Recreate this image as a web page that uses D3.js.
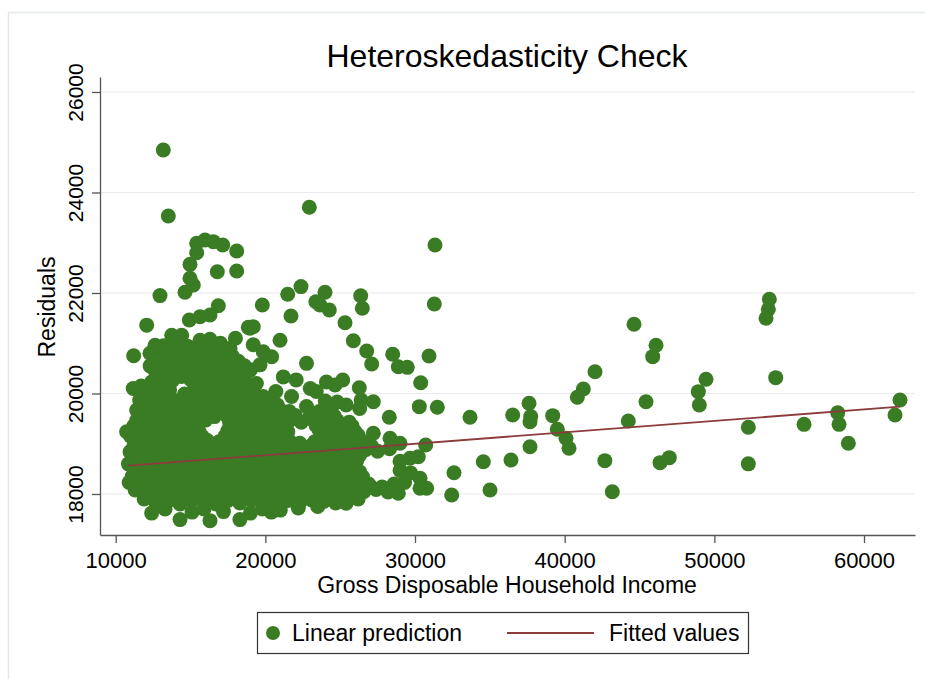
<!DOCTYPE html>
<html><head><meta charset="utf-8">
<script src="https://cdn.jsdelivr.net/npm/d3@7"></script>
<style>
body{margin:0;background:#fff;}
svg{display:block;font-family:"Liberation Sans",Arial,Helvetica,sans-serif;}
</style>
</head><body>
<svg id="chart" width="925" height="679"></svg>
<script>
const chartTitle = "Heteroskedasticity Check";
const xTitle = "Gross Disposable Household Income";
const yTitle = "Residuals";
const legendLabels = ["Linear prediction", "Fitted values"];
const xTicks = [10000, 20000, 30000, 40000, 50000, 60000];
const yTicks = [18000, 20000, 22000, 24000, 26000];
const fitIncome = [10842, 62405];
const fitValues = [18563, 19737];

// [income, residual] pairs
const linearPrediction = [
[12400,17620],[13300,17700],[14300,17490],[15100,17640],[15900,17700],[16300,17470],[17200,17650],[18300,17490],[19000,17620],[19800,17700],[20400,17640],[21000,17680],[22200,17720],[23500,17750],
[11900,17900],[12700,17820],[13500,17860],[14300,17800],[15100,17880],[15900,17830],[16700,17800],[17500,17870],[18300,17820],[19100,17880],[19900,17840],[20700,17800],[21500,17870],[22300,17830],[23100,17880],[23900,17850],[24700,17820],[25400,17815],[26200,17900],
[12300,17960],[13100,17940],[13900,17970],[14700,17930],[15500,17960],[16300,17940],[17100,17970],[17900,17930],[18700,17960],[19500,17940],[20300,17970],[21100,17930],[21900,17960],[22700,17940],[23500,17970],[24300,17930],[25100,17960],[25800,17940],
[11300,18080],[12200,18020],[13000,18060],[13800,18000],[14600,18070],[15400,18030],[16200,18080],[17000,18010],[17800,18060],[18600,18040],[19400,18080],[20200,18020],[21000,18060],[21800,18040],[22600,18080],[23400,18020],[24200,18060],[25000,18030],[25800,18080],[26600,18050],[27400,18090],[28200,18040],[28884,18014],[30334,18113],[30780,18113],[32450,17980],[35010,18080],
[11700,18150],[12600,18170],[13400,18140],[14200,18160],[15000,18130],[15800,18170],[16600,18140],[17400,18160],[18200,18130],[19000,18170],[19800,18140],[20600,18160],[21400,18130],[22200,18170],[23000,18140],[23800,18160],[24600,18130],[25400,18170],[26200,18150],[27000,18160],[27800,18140],
[10900,18230],[11700,18260],[12500,18220],[13300,18280],[14100,18240],[14900,18260],[15700,18220],[16500,18270],[17300,18230],[18100,18260],[18900,18220],[19700,18280],[20500,18240],[21300,18260],[22100,18220],[22900,18270],[23700,18240],[24500,18260],[25300,18220],[26100,18270],[26900,18200],[28600,18200],[29300,18230],[30334,18312],
[11100,18350],[11900,18340],[12700,18370],[13500,18340],[14300,18360],[15100,18330],[15900,18370],[16700,18340],[17500,18360],[18300,18330],[19100,18370],[19900,18340],[20700,18360],[21500,18330],[22300,18370],[23100,18340],[23900,18360],[24700,18330],[25500,18360],[26500,18340],
[11300,18470],[12100,18430],[12900,18460],[13700,18440],[14500,18480],[15300,18430],[16100,18460],[16900,18440],[17700,18470],[18500,18430],[19300,18460],[20100,18440],[20900,18480],[21700,18430],[22500,18460],[23300,18440],[24100,18470],[24900,18430],[25700,18460],[26300,18440],[29000,18470],[29700,18420],[32605,18424],
[11300,18550],[12100,18560],[12900,18540],[13700,18570],[14500,18550],[15300,18560],[16100,18540],[16900,18570],[17700,18550],[18500,18560],[19300,18540],[20100,18570],[20900,18550],[21700,18560],[22500,18540],[23300,18570],[24100,18550],[24900,18560],[25700,18540],
[10850,18600],[11700,18660],[12500,18630],[13300,18670],[14100,18640],[14900,18660],[15700,18620],[16500,18670],[17300,18640],[18100,18660],[18900,18620],[19700,18670],[20500,18640],[21300,18660],[22100,18630],[22900,18670],[23700,18640],[24500,18660],[25300,18630],[26100,18660],[29000,18650],[29665,18710],[30220,18742],[34563,18643],[36413,18677],
[11100,18750],[11900,18760],[12700,18740],[13500,18770],[14300,18750],[15100,18760],[15900,18740],[16700,18770],[17500,18750],[18300,18760],[19100,18740],[19900,18770],[20700,18750],[21500,18760],[22300,18740],[23100,18770],[23900,18750],[24700,18760],[25500,18740],[26300,18770],
[10960,18840],[11500,18870],[12300,18830],[13100,18860],[13900,18840],[14700,18880],[15500,18830],[16300,18860],[17100,18840],[17900,18870],[18700,18830],[19500,18860],[20300,18840],[21100,18870],[21900,18830],[22700,18860],[23500,18840],[24300,18870],[25100,18830],[25900,18860],[26700,18880],[27500,18850],[28300,18900],
[11200,18950],[11900,18960],[12700,18940],[13500,18970],[14300,18950],[15100,18960],[15900,18940],[16700,18970],[17500,18950],[18300,18960],[19100,18940],[19900,18970],[20700,18950],[21500,18960],[22300,18940],[23100,18970],[23900,18950],[24700,18960],[25500,18940],[26300,18970],[27100,18950],
[11300,19060],[12100,19030],[12900,19070],[13700,19040],[14500,19060],[15300,19030],[16100,19070],[16900,19040],[17700,19060],[18500,19030],[19300,19070],[20100,19040],[20900,19060],[21700,19030],[22300,19010],[23300,19040],[24100,19060],[24900,19030],[25700,19070],[26500,19040],[27213,19208],[28329,19108],[28997,19009],[30714,18975],
[11000,19150],[11800,19160],[12600,19140],[13400,19170],[14200,19150],[15000,19160],[15800,19140],[17300,19150],[18100,19160],[18900,19140],[19700,19170],[20500,19150],[21300,19160],[23800,19150],[24600,19160],[25400,19140],[26200,19170],
[10730,19240],[11600,19270],[12400,19230],[13200,19260],[14000,19240],[14800,19280],[15600,19230],[17500,19260],[18300,19240],[19100,19270],[19900,19230],[20700,19260],[21500,19240],[23600,19270],[24400,19230],[25200,19260],[26000,19240],
[11200,19350],[12000,19360],[12800,19340],[13600,19370],[14400,19350],[15200,19360],[18000,19350],[18800,19360],[19600,19340],[20400,19370],[21200,19350],[23400,19360],[24200,19340],[25000,19370],[25800,19350],
[11400,19460],[12000,19430],[12800,19470],[13600,19440],[14400,19460],[15200,19430],[16000,19470],[17600,19440],[18400,19460],[19200,19430],[20000,19470],[20800,19440],[21600,19460],[22400,19430],[23200,19470],[24000,19440],[24800,19460],[25600,19430],[28282,19526],[33674,19526],
[11800,19550],[12600,19560],[13400,19540],[14200,19570],[15000,19550],[15800,19560],[16600,19540],[17400,19570],[18200,19550],[19000,19560],[19800,19540],[20600,19570],[21400,19550],[22000,19560],[23000,19540],[23800,19570],[24600,19550],
[11400,19670],[12200,19640],[13000,19660],[13800,19630],[14600,19670],[15400,19640],[16200,19660],[17000,19630],[17800,19670],[18600,19640],[19400,19660],[20200,19630],[21000,19670],[21600,19640],[22750,19740],[23600,19640],[24400,19670],[25400,19770],
[12000,19750],[12800,19760],[13600,19740],[14400,19770],[15200,19750],[16000,19760],[16800,19740],[17600,19770],[18400,19750],[19200,19760],[20000,19740],[20800,19770],
[11600,19870],[12400,19840],[13200,19880],[14000,19850],[14800,19830],[15600,19870],[16400,19840],[17200,19880],[18000,19850],[18800,19830],[19600,19870],[20400,19840],[21750,19940],[24000,19850],[24800,19830],[26400,19870],[27213,19837],[26300,19700],
[12000,19950],[12800,19960],[13600,19940],[15600,19950],[16400,19960],[17200,19940],[18000,19970],[18800,19950],
[11170,20100],[12000,20060],[12800,20030],[13600,20070],[14600,19990],[15200,20060],[16000,20030],[16800,20070],[17600,20040],[18400,20060],[19200,20030],[19860,19940],[20700,20040],[23000,20100],[23400,20040],[24080,20230],[24654,20169],[25168,20269],[26277,20115],[22060,20270],[21200,20330],
[11700,20150],[12600,20160],[13300,20140],[15500,20150],[16400,20160],[17200,20140],[18000,20170],[18800,20150],
[12400,20230],[13000,20280],[13800,20260],[15000,20280],[15700,20230],[16400,20260],[17000,20290],[17800,20240],[18600,20270],[19400,20200],
[12800,20350],[13600,20360],[14400,20340],[15400,20370],[16200,20350],[17000,20360],[17800,20340],[18600,20370],
[12600,20470],[13200,20430],[14000,20460],[15000,20440],[15800,20470],[16600,20430],[17400,20460],[18200,20440],[19000,20470],[19640,20570],
[12300,20550],[13000,20560],[13800,20540],[14600,20570],[15400,20550],[16200,20560],[17000,20540],[17800,20570],[18600,20550],
[11200,20750],[12290,20800],[13400,20630],[14200,20660],[15000,20640],[15800,20670],[16600,20630],[17400,20660],[18200,20640],[20420,20730],[22750,20600],
[13000,20750],[13800,20760],[14600,20740],[15400,20770],[16200,20750],[17000,20760],[17800,20740],
[12630,20960],[13600,20830],[14400,20860],[15200,20840],[16000,20870],[16800,20830],[17640,20900],[19860,20830],[19190,20970],
[13200,20950],[14000,20960],[14800,20940],[15600,20970],[16400,20950],
[12070,21360],[13740,21160],[14410,21160],[15630,21060],[16300,21080],[17000,21000],[18000,21100],[20980,21060],[18970,21300],
[14918,21462],[15633,21528],[16301,21562],[16856,21747],[18860,21316],[19194,21329],[19797,21761],[21494,21975],[21713,21542],[22382,22127],[23377,21826],[23648,21761],[23985,22014],[24273,21661],[25322,21409],
[12960,21948],[14631,22014],[15185,22159],[14965,22292],[16790,22423],[18085,22437],[14965,22570],[15412,22802],[15412,22989],[15967,23055],[16522,23021],[17150,22955],[18085,22836],[13515,23532],[13180,24846],[22937,23705],
[26371,21946],[26478,21695],[25877,21050],[26772,20846],[27106,20587],[28509,20780],[28884,20533],[29484,20520],[30935,20746],[30380,20215],[30287,19738],[31490,19725],[31336,22955],[31290,21781],[36527,19572],
[44633,21377],[46104,20959],[45881,20733],[42027,20434],[41247,20090],[40846,19924],[37618,19805],[37731,19540],[37683,19439],[37683,18941],[39200,19559],[39508,19287],[40090,19108],[40290,18909],[42683,18663],[43183,18046],[44252,19453],[45435,19837],[46371,18624],[46993,18723],[48931,20037],[49445,20283],[48998,19771],[52272,19327],[52272,18600],[53675,21875],[53608,21676],[53454,21497],[54101,20315],[55993,19386],[58245,19618],[58333,19386],[58955,19009],[62407,19871],[62073,19572]
];

const green = "#3a7c24";
const maroon = "#8c3c3c";

const svg = d3.select("#chart");
const x = d3.scaleLinear().domain([8951, 63408]).range([100, 915]);
const y = d3.scaleLinear().domain([17184, 26298]).range([535, 77]);

// outer light panel border
svg.append("rect").attr("x", 8.5).attr("y", 12.5).attr("width", 940).attr("height", 700)
  .attr("fill", "#fff").attr("stroke", "#e3e8e8").attr("stroke-width", 1.5);

// title
svg.append("text").attr("x", 507).attr("y", 67).attr("text-anchor", "middle")
  .style("font-size", "32px").attr("fill", "#000").text(chartTitle);

// gridlines
svg.append("g").selectAll("line").data(yTicks).join("line")
  .attr("x1", 100).attr("x2", 915)
  .attr("y1", d => y(d)).attr("y2", d => y(d))
  .attr("stroke", "#e9e9ef").attr("stroke-width", 1.2);

// points
svg.append("g").selectAll("circle").data(linearPrediction).join("circle")
  .attr("cx", d => x(d[0])).attr("cy", d => y(d[1])).attr("r", 7.5)
  .attr("fill", green);

// fitted line
svg.append("path")
  .datum(fitIncome.map((v, i) => [v, fitValues[i]]))
  .attr("d", d3.line().x(d => x(d[0])).y(d => y(d[1])))
  .attr("fill", "none").attr("stroke", maroon).attr("stroke-width", 1.8);

// x axis
const xAxis = svg.append("g").attr("transform", "translate(0,535)")
  .call(d3.axisBottom(x).tickValues(xTicks).tickSize(8).tickSizeOuter(0).tickPadding(9).tickFormat(d3.format("d")));
xAxis.select(".domain").attr("stroke", "#555").attr("stroke-width", 1.3);
xAxis.selectAll(".tick line").attr("stroke", "#555").attr("stroke-width", 1.3);
xAxis.selectAll("text").style("font-size", "22px").attr("fill", "#000");

// y axis
const yAxis = svg.append("g").attr("transform", "translate(100,0)")
  .call(d3.axisLeft(y).tickValues(yTicks).tickSize(8).tickSizeOuter(0).tickFormat(d3.format("d")));
yAxis.select(".domain").attr("stroke", "#555").attr("stroke-width", 1.3);
yAxis.selectAll(".tick line").attr("stroke", "#555").attr("stroke-width", 1.3);
yAxis.selectAll("text").style("font-size", "21px").attr("fill", "#000")
  .attr("x", 0).attr("y", -17).attr("dy", 0).attr("transform", "rotate(-90)")
  .attr("text-anchor", "middle");
svg.selectAll("g text").attr("font-family", null);

// axis titles
svg.append("text").attr("x", 507).attr("y", 593).attr("text-anchor", "middle")
  .style("font-size", "23px").attr("fill", "#000").text(xTitle);
svg.append("text").attr("transform", "translate(55,307) rotate(-90)").attr("text-anchor", "middle")
  .style("font-size", "23px").attr("fill", "#000").text(yTitle);

// legend
const lg = svg.append("g");
lg.append("rect").attr("x", 257.5).attr("y", 612.5).attr("width", 491).attr("height", 41)
  .attr("fill", "#fff").attr("stroke", "#333").attr("stroke-width", 1.2);
lg.append("circle").attr("cx", 273).attr("cy", 633).attr("r", 7).attr("fill", green);
lg.append("text").attr("x", 292).attr("y", 641).style("font-size", "23px").attr("fill", "#000").text(legendLabels[0]);
lg.append("line").attr("x1", 507).attr("x2", 594).attr("y1", 633).attr("y2", 633)
  .attr("stroke", maroon).attr("stroke-width", 1.8);
lg.append("text").attr("x", 609).attr("y", 641).style("font-size", "23px").attr("fill", "#000").text(legendLabels[1]);
</script>
</body></html>
